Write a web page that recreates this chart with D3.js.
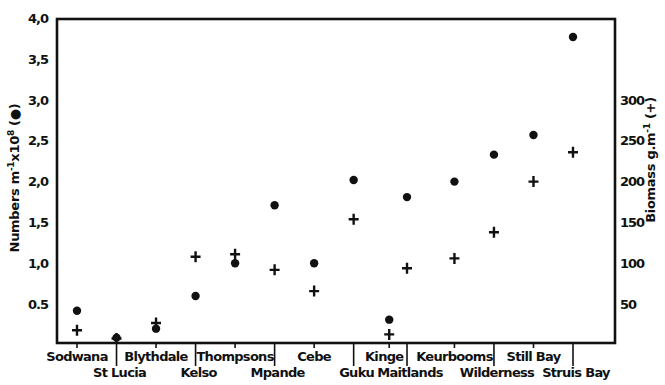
<!DOCTYPE html>
<html>
<head>
<meta charset="utf-8">
<script src="https://cdn.jsdelivr.net/npm/d3@7"></script>
<style>
  body { margin: 0; background: #fff; }
  text { font-family: "DejaVu Sans", sans-serif; font-weight: bold; fill: #111; }
</style>
</head>
<body>
<div id="chart"></div>
<script>
// sites along the coast, in order
var sites = ["Sodwana", "St Lucia", "Blythdale", "Kelso", "Thompsons", "Mpande", "Cebe",
             "Guku", "Kinge", "Maitlands", "Keurbooms", "Wilderness", "Still Bay", "Struis Bay"];
// relative position of each site along the x axis
var sitePos = [0, 1, 2, 3, 4, 5, 6, 7, 7.9, 8.35, 9.55, 10.55, 11.55, 12.55];
// numbers m-1 x 10^8 (dots)
var numbers = [0.42, 0.09, 0.2, 0.6, 1.0, 1.71, 1.0, 2.02, 0.31, 1.81, 2.0, 2.33, 2.57, 3.77];
// biomass g.m-1 (crosses)
var biomass = [18, 8, 27, 108, 111, 92, 66, 154, 13, 94, 106, 138, 200, 236];

var leftTicks = [0.5, 1.0, 1.5, 2.0, 2.5, 3.0, 3.5, 4.0];
var leftTickLabels = ["0.5", "1,0", "1,5", "2,0", "2,5", "3,0", "3,5", "4,0"];
var rightTicks = [50, 100, 150, 200, 250, 300];

var width = 665, height = 385;
var svg = d3.select("#chart").append("svg")
    .attr("width", width)
    .attr("height", height);

var frame = {left: 57, right: 615, top: 19, bottom: 343};

var x = d3.scaleLinear().domain([0, 12.55]).range([77, 573]);
var y = d3.scaleLinear().domain([0, 4]).range([345, 18.2]);
var y2 = d3.scaleLinear().domain([0, 400]).range([345, 18.2]);

// frame
svg.append("rect")
    .attr("x", frame.left)
    .attr("y", frame.top)
    .attr("width", frame.right - frame.left)
    .attr("height", frame.bottom - frame.top)
    .attr("fill", "none")
    .attr("stroke", "#111")
    .attr("stroke-width", 2.6);

// left axis labels
var leftAxis = d3.axisLeft(y)
    .tickValues(leftTicks)
    .tickSize(0)
    .tickPadding(9)
    .tickFormat(function(d, i){ return leftTickLabels[i]; });
var gl = svg.append("g")
    .attr("transform", "translate(" + frame.left + ",0)")
    .call(leftAxis);
gl.select(".domain").remove();
gl.selectAll("text")
    .attr("font-family", "DejaVu Sans")
    .attr("font-weight", "bold")
    .attr("font-size", 13)
    .attr("letter-spacing", -1);

// right axis labels
var rightAxis = d3.axisRight(y2)
    .tickValues(rightTicks)
    .tickSize(0)
    .tickPadding(5);
var gr = svg.append("g")
    .attr("transform", "translate(" + frame.right + ",0)")
    .call(rightAxis);
gr.select(".domain").remove();
gr.selectAll("text")
    .attr("font-family", "DejaVu Sans")
    .attr("font-weight", "bold")
    .attr("font-size", 13)
    .attr("letter-spacing", -1);

// x ticks: long dividers at the lower-row sites
svg.selectAll("line.xtick")
    .data(sites)
    .enter()
    .append("line")
    .attr("class", "xtick")
    .attr("x1", function(d, i){ return x(sitePos[i]); })
    .attr("x2", function(d, i){ return x(sitePos[i]); })
    .attr("y1", frame.bottom)
    .attr("y2", function(d, i){ return i % 2 == 1 ? 366 : 348; })
    .attr("stroke", "#111")
    .attr("stroke-width", 1.6);

// site labels, alternating rows
svg.selectAll("text.site")
    .data(sites)
    .enter()
    .append("text")
    .attr("class", "site")
    .attr("x", function(d, i){ return x(sitePos[i]) + (i % 2 == 1 ? 3 : (d == "Kinge" ? -5 : 0)); })
    .attr("y", function(d, i){ return i % 2 == 1 ? 377 : 361; })
    .attr("text-anchor", "middle")
    .attr("font-size", 13)
    .attr("letter-spacing", -0.7)
    .text(function(d){ return d; });

// biomass crosses
svg.selectAll("path.plus")
    .data(biomass)
    .enter()
    .append("path")
    .attr("class", "plus")
    .attr("d", function(d, i){
        var cx = x(sitePos[i]), cy = y2(d);
        return "M" + (cx - 5) + "," + cy + "H" + (cx + 5) + "M" + cx + "," + (cy - 5.5) + "V" + (cy + 5.5);
    })
    .attr("stroke", "#111")
    .attr("stroke-width", 2.4);

// number dots
svg.selectAll("circle.dot")
    .data(numbers)
    .enter()
    .append("circle")
    .attr("class", "dot")
    .attr("cx", function(d, i){ return x(sitePos[i]); })
    .attr("cy", function(d){ return y(d); })
    .attr("r", 4.2)
    .attr("fill", "#111");

// axis titles
var lt = svg.append("text")
    .attr("transform", "translate(19,178) rotate(-90)")
    .attr("text-anchor", "middle")
    .attr("font-size", 13)
    .attr("letter-spacing", -0.3);
lt.append("tspan").text("Numbers m");
lt.append("tspan").attr("dy", -5).attr("font-size", 9).text("-1");
lt.append("tspan").attr("dy", 5).text("x10");
lt.append("tspan").attr("dy", -5).attr("font-size", 9).text("8");
lt.append("tspan").attr("dy", 5).text(" (\u25CF)");

var rt = svg.append("text")
    .attr("transform", "translate(655,160) rotate(-90)")
    .attr("text-anchor", "middle")
    .attr("font-size", 13)
    .attr("letter-spacing", -0.3);
rt.append("tspan").text("Biomass g.m");
rt.append("tspan").attr("dy", -5).attr("font-size", 9).text("-1");
rt.append("tspan").attr("dy", 5).text(" (+)");
</script>
</body>
</html>
